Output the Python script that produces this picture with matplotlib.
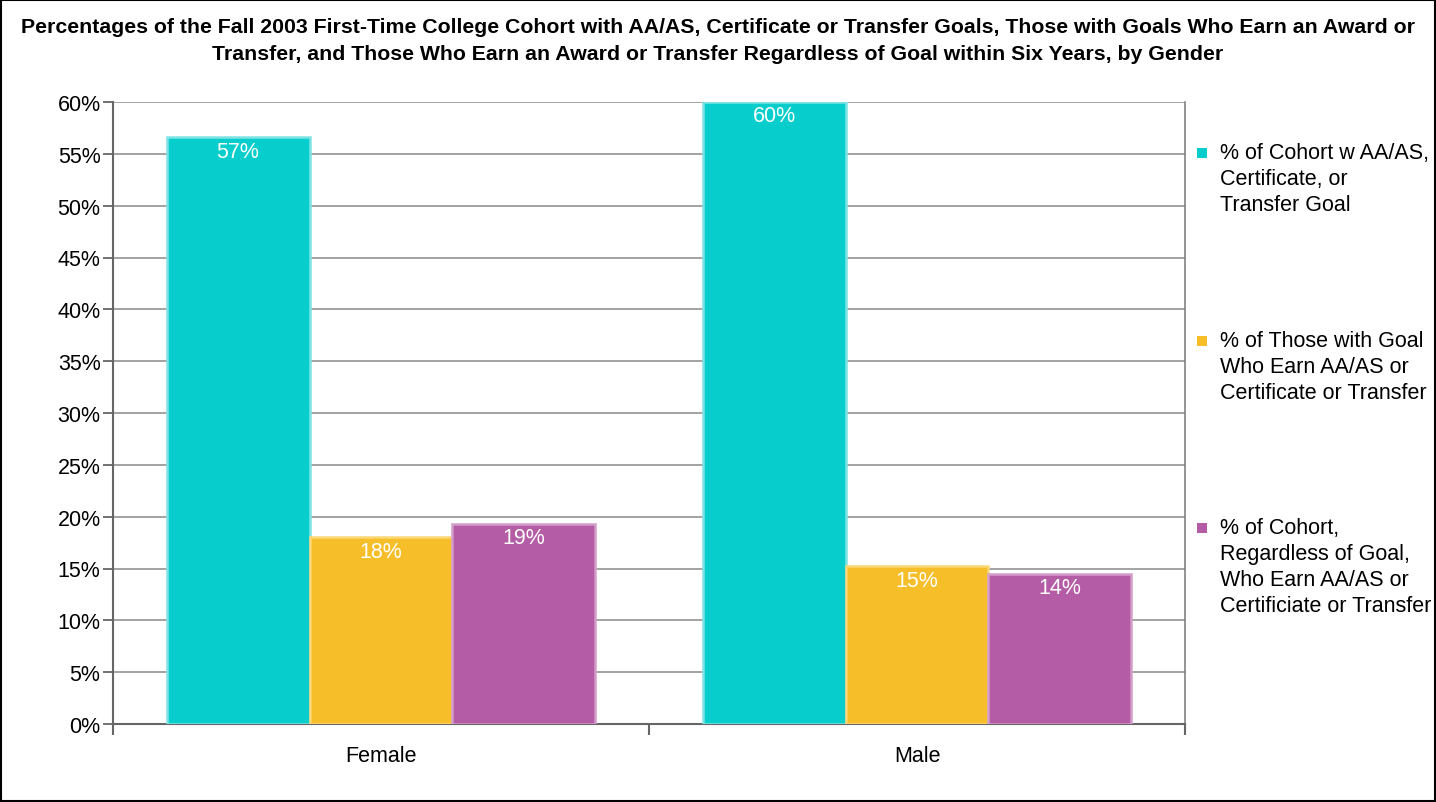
import numpy as np
import matplotlib
matplotlib.use("Agg")
import matplotlib.pyplot as plt
from matplotlib.patches import Rectangle

plt.rcParams["font.family"] = ["Liberation Sans", "DejaVu Sans"]

TITLE = ("Percentages of the Fall 2003 First-Time College Cohort with AA/AS, Certificate or Transfer Goals, "
         "Those with Goals Who Earn an Award or\nTransfer, and Those Who Earn an Award or Transfer "
         "Regardless of Goal within Six Years, by Gender")

groups = ["Female", "Male"]
series_labels = [
    "% of Cohort w AA/AS,\nCertificate, or\nTransfer Goal",
    "% of Those with Goal\nWho Earn AA/AS or\nCertificate or Transfer",
    "% of Cohort,\nRegardless of Goal,\nWho Earn AA/AS or\nCertificiate or Transfer",
]
cohort_goal = [56.6, 60.0]
goal_earn = [18.0, 15.2]
cohort_earn = [19.3, 14.5]
value_labels = [["57%", "60%"], ["18%", "15%"], ["19%", "14%"]]

colors = ["#07CDCD", "#F6BE28", "#B45CA6"]
edges = ["#7FE3E3", "#FAD675", "#D29DC9"]

FS = 15.5

fig = plt.figure(figsize=(14.36, 8.03), dpi=100)
ax = fig.add_axes([113 / 1436, 1 - 725 / 803, 1072 / 1436, 622 / 803])

x = np.arange(len(groups))
w = 0.8 / 3
all_series = [cohort_goal, goal_earn, cohort_earn]
for i, vals in enumerate(all_series):
    pos = x + (i - 1) * w
    bars = ax.bar(pos, vals, width=w, color=colors[i], edgecolor=edges[i],
                  linewidth=1.8, zorder=3)
    for b, lab in zip(bars, value_labels[i]):
        ax.annotate(lab, (b.get_x() + b.get_width() / 2, b.get_height()),
                    xytext=(0, -2.5), textcoords="offset points",
                    ha="center", va="top", color="white", fontsize=FS, zorder=4)

ax.set_xlim(-0.5, 1.5)
ax.set_ylim(0, 60)
ax.set_yticks(np.arange(0, 61, 5))
ax.set_yticklabels([f"{v}%" for v in range(0, 61, 5)], fontsize=FS)
ax.yaxis.grid(True, color="#8a8a8a", linewidth=1.1, zorder=0)
ax.set_axisbelow(True)

# category ticks at boundaries, labels at centers
ax.set_xticks([-0.5, 0.5, 1.5])
ax.set_xticklabels([])
ax.set_xticks(x, minor=True)
ax.set_xticklabels(groups, minor=True, fontsize=FS)
ax.tick_params(axis="x", which="major", length=8, width=1.5, color="#666666")
ax.tick_params(axis="x", which="minor", length=0, pad=15)
ax.tick_params(axis="y", length=7, width=1.3, color="#666666", pad=2)

for side in ["left", "bottom"]:
    ax.spines[side].set_color("#666666")
    ax.spines[side].set_linewidth(1.5)
ax.spines["right"].set_color("#777777")
ax.spines["right"].set_linewidth(1.1)
ax.spines["top"].set_visible(False)

fig.text(0.5, 1 - 18 / 803, TITLE, ha="center", va="top", fontsize=15.3,
         fontweight="bold", linespacing=1.5)

# legend drawn manually to keep squares aligned with the first text line
leg_tops = [143, 331, 518]
for top, lab, c in zip(leg_tops, series_labels, colors):
    fig.patches.append(Rectangle((1197 / 1436, 1 - (top + 16) / 803), 10 / 1436, 10 / 803,
                                 transform=fig.transFigure, facecolor=c, edgecolor="none"))
    fig.text(1220 / 1436, 1 - top / 803, lab, ha="left", va="top", fontsize=FS,
             linespacing=1.32)

fig.patches.append(Rectangle((0.0008, 0.001), 0.9984, 0.998, transform=fig.transFigure,
                             fill=False, edgecolor="black", linewidth=1.5))

fig.savefig("out.png", dpi=100)
